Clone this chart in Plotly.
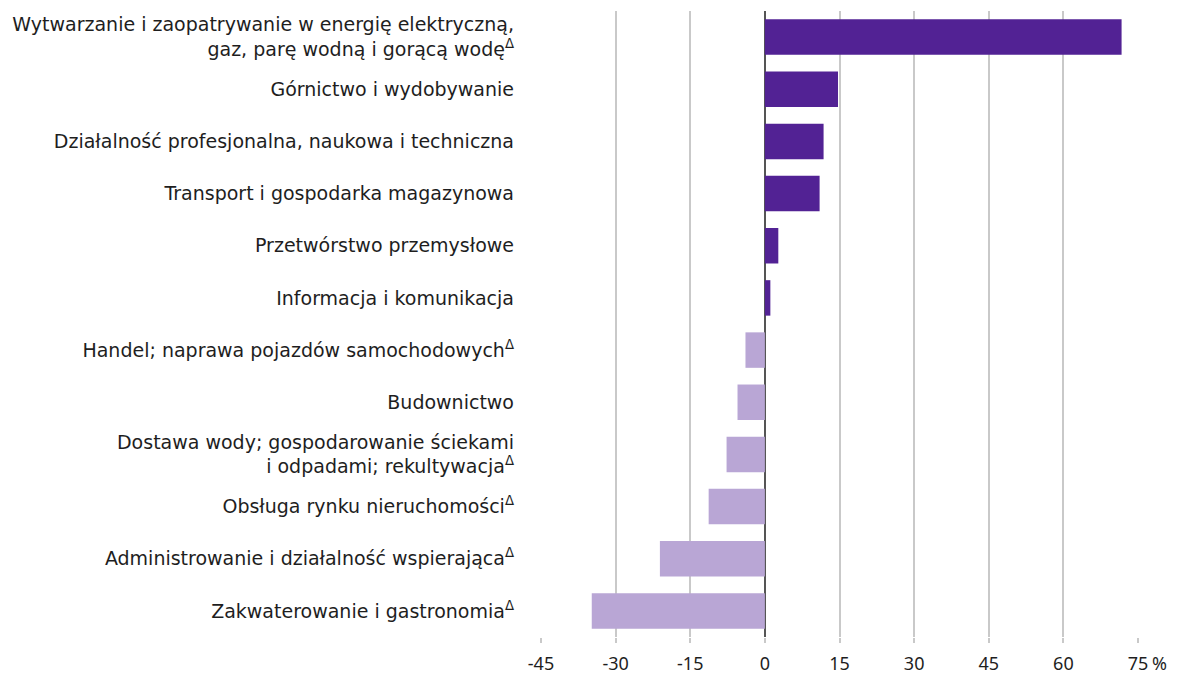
import plotly.graph_objects as go

# sekcje PKD (od góry do dołu)
sekcje = [
    "Wytwarzanie i zaopatrywanie w energię elektryczną,<br>gaz, parę wodną i gorącą wodę<sup>Δ</sup>",
    "Górnictwo i wydobywanie",
    "Działalność profesjonalna, naukowa i techniczna",
    "Transport i gospodarka magazynowa",
    "Przetwórstwo przemysłowe",
    "Informacja i komunikacja",
    "Handel; naprawa pojazdów samochodowych<sup>Δ</sup>",
    "Budownictwo",
    "Dostawa wody; gospodarowanie ściekami<br>i odpadami; rekultywacja<sup>Δ</sup>",
    "Obsługa rynku nieruchomości<sup>Δ</sup>",
    "Administrowanie i działalność wspierająca<sup>Δ</sup>",
    "Zakwaterowanie i gastronomia<sup>Δ</sup>",
]
zmiana = [71.7, 14.7, 11.8, 11.0, 2.7, 1.1, -3.9, -5.5, -7.7, -11.3, -21.1, -34.8]

tick_vals = [-45, -30, -15, 0, 15, 30, 45, 60, 75]
tick_text = ["-45", "-30", "-15", "0", "15", "30", "45", "60", "75"]

ciemny = "#522294"
jasny = "#b9a6d5"
kolory = [ciemny if v >= 0 else jasny for v in zmiana]

fig = go.Figure(go.Bar(
    x=zmiana,
    y=sekcje,
    orientation="h",
    marker=dict(color=kolory, line=dict(width=0)),
))

# strona html ma 8 px marginesu, stąd przesunięte marginesy
fig.update_layout(
    width=1183,
    height=677,
    margin=dict(l=533, r=53, t=3, b=48),
    plot_bgcolor="white",
    paper_bgcolor="white",
    font=dict(family="DejaVu Sans", size=19, color="#1e1e1e"),
    bargap=0.32,
    showlegend=False,
)

fig.update_xaxes(
    range=[-45, 75],
    tickvals=tick_vals,
    ticktext=tick_text,
    showgrid=True,
    gridcolor="#c9c9c9",
    gridwidth=2,
    zeroline=True,
    zerolinecolor="#555555",
    zerolinewidth=2,
    ticks="outside",
    ticklen=5,
    tickcolor="#c9c9c9",
    tickwidth=2,
    tickfont=dict(family="Noto Sans", size=18),
    ticklabelstandoff=5,
    showline=False,
)

fig.update_yaxes(
    categoryorder="array",
    categoryarray=sekcje[::-1],
    showgrid=False,
    ticks="",
    ticklabelstandoff=26,
    tickfont=dict(size=19),
)

# znak procentu obok ostatniej etykiety osi
fig.add_annotation(
    x=75, y=0, xref="x", yref="paper",
    text="%", showarrow=False, xanchor="left", yanchor="top",
    xshift=12, yshift=-12, font=dict(family="Noto Sans", size=18),
)

fig.write_html("out.html")
